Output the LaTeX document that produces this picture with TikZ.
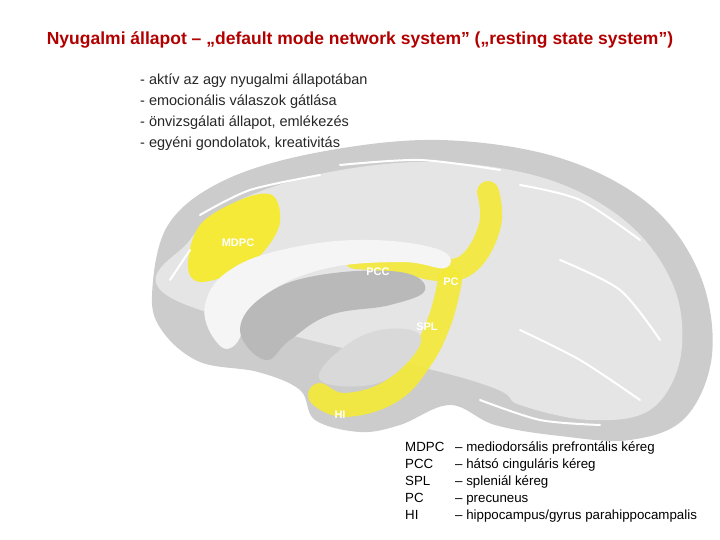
\documentclass[tikz,border=0pt]{standalone}
\usepackage{fontspec}
\setmainfont{Liberation Sans}
\begin{document}
\begin{tikzpicture}[x=1pt,y=-1pt,
  lab/.style={font=\bfseries\fontsize{11}{11}\selectfont,text=white},
  bul/.style={font=\fontsize{14.5}{15}\selectfont,anchor=west,inner sep=0pt,text=black!85},
  leg/.style={font=\fontsize{13.3}{14}\selectfont,anchor=base west,inner sep=0pt},
  yel/.style={draw=yellow!75!white!90!olive,line cap=round,line join=round,opacity=0.9},
  gyr/.style={draw=white,line width=2pt,line cap=round}]
\useasboundingbox (0,0) rectangle (720,540);
\node[font=\bfseries\fontsize{17.5}{18}\selectfont,text=red!70!black,inner sep=0pt] (title) at (360,40) {Nyugalmi állapot – „default mode network system” („resting state system”)};
\node[bul] (b1) at (140,81) {- aktív az agy nyugalmi állapotában};
\node[bul] (b2) at (140,102) {- emocionális válaszok gátlása};
\node[bul] (b3) at (140,123) {- önvizsgálati állapot, emlékezés};
\node[bul] (b4) at (140,144) {- egyéni gondolatok, kreativitás};
% brain body
\fill[gray!40] plot[smooth cycle,tension=0.6] coordinates {(152,295)(168,225)(225,180)(320,152)(440,140)(560,158)(650,205)(700,275)(712,355)(685,418)(630,440)(560,436)(495,425)(450,405)(400,425)(360,432)(315,420)(300,390)(258,372)(200,362)(163,332)};
\fill[gray!20] plot[smooth cycle,tension=0.6] coordinates {(175,300)(190,240)(240,200)(330,172)(440,162)(550,180)(630,225)(675,290)(680,360)(650,410)(590,420)(520,405)(470,380)};
% yellow regions
\fill[yellow!75!white!90!olive] plot[smooth cycle,tension=0.6] coordinates {(188,265)(200,225)(240,200)(272,195)(280,222)(265,250)(240,270)(200,282)};
\draw[yel,line width=22pt] plot[smooth,tension=0.7] coordinates {(355,258)(400,262)(440,270)(470,262)(490,225)(488,192)};
\draw[yel,line width=24pt] plot[smooth,tension=0.7] coordinates {(450,280)(440,320)(420,360)(390,392)(345,405)(320,395)};
% corpus callosum & inner regions
\fill[white!92!gray] plot[smooth cycle,tension=0.7] coordinates {(205,305)(230,270)(290,248)(370,240)(440,250)(445,268)(400,262)(320,270)(260,300)(235,345)(215,340)};
\fill[gray!55] plot[smooth cycle,tension=0.7] coordinates {(240,330)(265,295)(320,275)(400,272)(425,290)(390,305)(330,315)(290,340)(265,360)};
\fill[gray!30] plot[smooth cycle,tension=0.7] coordinates {(320,380)(340,350)(380,330)(420,335)(405,365)(370,385)};
% gyri
\draw[gyr] plot[smooth] coordinates {(200,215)(250,190)(320,175)};
\draw[gyr] plot[smooth] coordinates {(340,165)(420,160)(500,170)};
\draw[gyr] plot[smooth] coordinates {(520,185)(580,200)(640,240)};
\draw[gyr] plot[smooth] coordinates {(560,260)(620,290)(660,340)};
\draw[gyr] plot[smooth] coordinates {(520,330)(580,360)(640,400)};
\draw[gyr] plot[smooth] coordinates {(170,280)(190,250)};
\draw[gyr] plot[smooth] coordinates {(480,400)(540,420)(600,425)};
% labels
\node[lab] (mdpc) at (238,243) {MDPC};
\node[lab] (pcc) at (378,272) {PCC};
\node[lab] (pc) at (451,282) {PC};
\node[lab] (spl) at (427,327) {SPL};
\node[lab] (hi) at (340,415) {HI};
% legend
\foreach \a/\t [count=\i] in {MDPC/{– mediodorsális prefrontális kéreg},PCC/{– hátsó cinguláris kéreg},SPL/{– spleniál kéreg},PC/{– precuneus},HI/{– hippocampus/gyrus parahippocampalis}}{
  \node[leg] (la\i) at (405,434+17*\i) {\a};
  \node[leg] (lt\i) at (455,434+17*\i) {\t};
}
\end{tikzpicture}
\end{document}
